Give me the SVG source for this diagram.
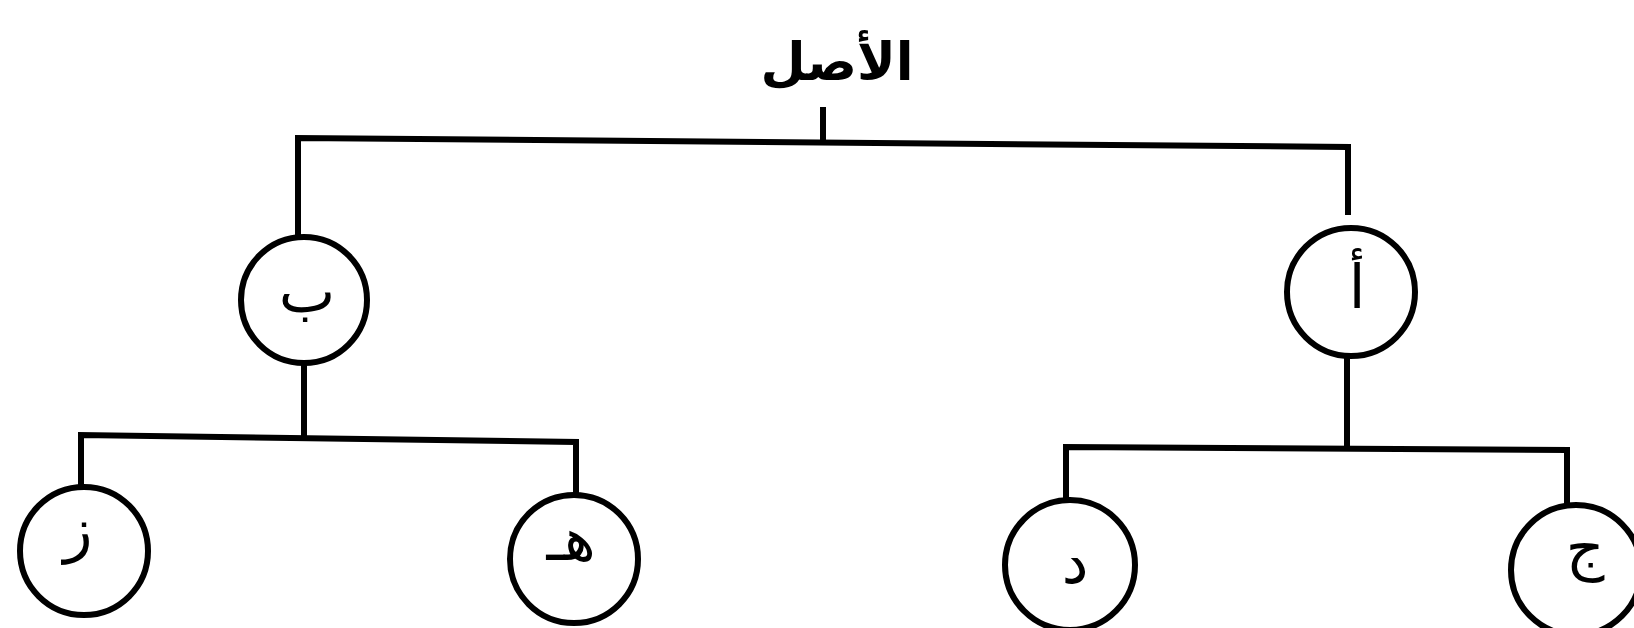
<svg xmlns="http://www.w3.org/2000/svg" width="1634" height="628" viewBox="0 0 1634 628">
<style>
.c{fill:#fff;stroke:#000;stroke-width:6}
.e{fill:none;stroke:#000;stroke-width:6;stroke-linecap:square;stroke-linejoin:miter}
.t{font-family:"DejaVu Sans",sans-serif;fill:#000;text-anchor:middle}
.l{font-size:60px}
.h{font-size:52px;font-weight:bold}
</style>
<rect width="1634" height="628" fill="#fff"/>
<g id="connectors">
<path class="e" d="M823,110 V141"/>
<path class="e" d="M298,237 V138 L1348,147 V212"/>
<path class="e" d="M304,363 V437"/>
<path class="e" d="M81,487 V435 L576,442 V495"/>
<path class="e" d="M1347,355 V446"/>
<path class="e" d="M1066,500 V447 L1567,450 V505"/>
</g>
<g id="root"><text class="t h" x="837" y="80" direction="rtl">الأصل</text></g>
<g id="node-alef"><circle class="c" cx="1351" cy="292" r="64"/><text class="t l" x="1357" y="308">أ</text></g>
<g id="node-ba"><circle class="c" cx="304" cy="300" r="63"/><text class="t l" x="307" y="312">ب</text></g>
<g id="node-jim"><circle class="c" cx="1576" cy="570" r="65"/><text class="t l" x="1585" y="568">ج</text></g>
<g id="node-dal"><circle class="c" cx="1070" cy="565" r="65"/><text class="t l" x="1075" y="583">د</text></g>
<g id="node-ha"><circle class="c" cx="574" cy="559" r="64"/><text class="t l" x="571" y="560">هـ</text></g>
<g id="node-zay"><circle class="c" cx="84" cy="551" r="64"/><text class="t l" x="78" y="550">ز</text></g>
</svg>
